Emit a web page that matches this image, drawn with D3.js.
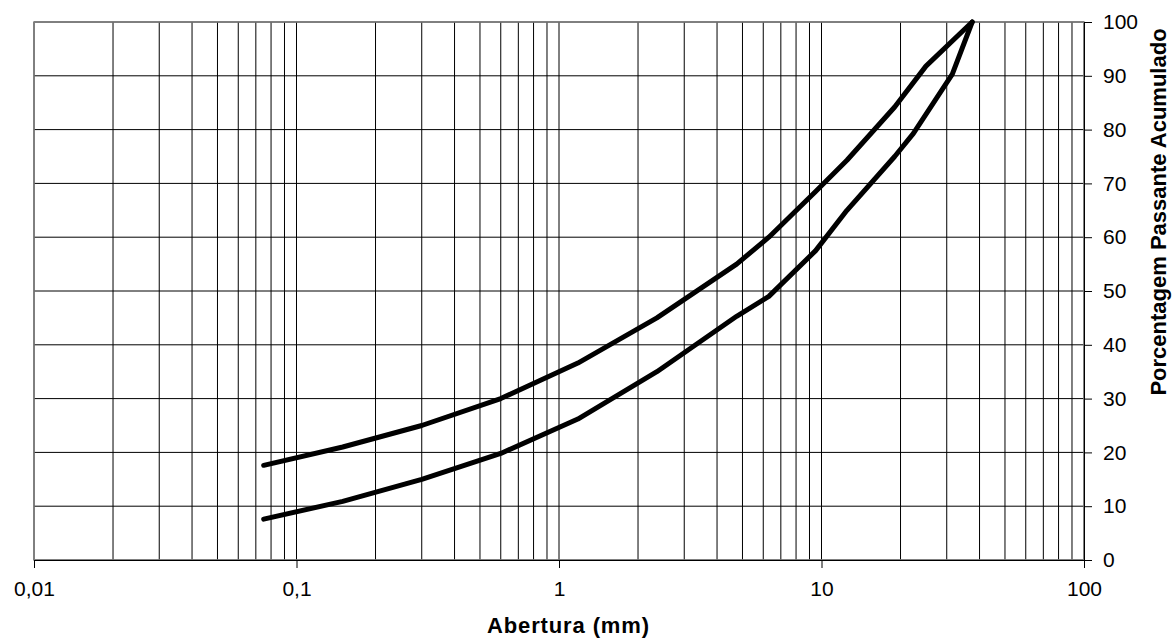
<!DOCTYPE html>
<html>
<head>
<meta charset="utf-8">
<script src="https://cdn.jsdelivr.net/npm/d3@7"></script>
<style>
  body { margin: 0; background: #fff; }
  text { font-family: Arial, "Liberation Sans", sans-serif; }
</style>
</head>
<body>
<script>
// sieve openings (mm) and cumulative passing (%)
var upperSizes = [0.075, 0.15, 0.3, 0.6, 1.18, 2.36, 4.75, 6.3, 9.5, 12.5, 19, 25, 37.5];
var upperPass  = [17.6, 21, 25, 30, 36.6, 45, 55, 60, 68.5, 74.3, 84.2, 91.8, 100];

var lowerSizes = [0.075, 0.15, 0.3, 0.6, 1.18, 2.36, 4.75, 6.3, 9.5, 12.5, 19, 22.4, 31.5, 37.5];
var lowerPass  = [7.6, 10.9, 15, 19.8, 26.2, 35, 45.3, 49, 57.5, 65, 75, 79.3, 90.3, 100];

var xTickValues = [0.01, 0.1, 1, 10, 100];
var xTickLabels = ["0,01", "0,1", "1", "10", "100"];
var yTickValues = [0, 10, 20, 30, 40, 50, 60, 70, 80, 90, 100];

var svgWidth = 1175;
var svgHeight = 639;

var plot = { left: 34, right: 1084, top: 22, bottom: 560 };

var svg = d3.select("body")
  .append("svg")
  .attr("width", svgWidth)
  .attr("height", svgHeight);

var xScale = d3.scaleLog()
  .domain([0.01, 100])
  .range([plot.left, plot.right]);

var yScale = d3.scaleLinear()
  .domain([0, 100])
  .range([plot.bottom, plot.top]);

// vertical grid: every 1..9 of each decade
svg.append("g")
  .selectAll("line")
  .data(xScale.ticks())
  .enter()
  .append("line")
  .attr("x1", d => xScale(d))
  .attr("x2", d => xScale(d))
  .attr("y1", plot.top)
  .attr("y2", plot.bottom)
  .attr("stroke", "#000")
  .attr("stroke-width", 1);

// horizontal grid
svg.append("g")
  .selectAll("line")
  .data(yTickValues)
  .enter()
  .append("line")
  .attr("x1", plot.left)
  .attr("x2", plot.right)
  .attr("y1", d => yScale(d))
  .attr("y2", d => yScale(d))
  .attr("stroke", "#000")
  .attr("stroke-width", 1);

// plot border
svg.append("rect")
  .attr("x", plot.left)
  .attr("y", plot.top)
  .attr("width", plot.right - plot.left)
  .attr("height", plot.bottom - plot.top)
  .attr("fill", "none")
  .attr("stroke", "#808080")
  .attr("stroke-width", 1.5);

// bottom axis
var bottomAxis = d3.axisBottom(xScale)
  .tickValues(xTickValues)
  .tickFormat((d, i) => xTickLabels[i])
  .tickSizeInner(8)
  .tickSizeOuter(0)
  .tickPadding(13);

var xAxis = svg.append("g")
  .attr("transform", `translate(0, ${plot.bottom})`)
  .call(bottomAxis);
xAxis.select(".domain").attr("stroke", "#000");
xAxis.selectAll(".tick line").attr("stroke", "#000");
xAxis.selectAll("text")
  .attr("font-size", 21)
  .attr("font-family", "Arial, 'Liberation Sans', sans-serif")
  .attr("fill", "#000");

// right axis
var rightAxis = d3.axisRight(yScale)
  .tickValues(yTickValues)
  .tickSizeInner(8)
  .tickSizeOuter(0)
  .tickPadding(11);

var yAxis = svg.append("g")
  .attr("transform", `translate(${plot.right}, 0)`)
  .call(rightAxis);
yAxis.select(".domain").attr("stroke", "#000");
yAxis.selectAll(".tick line").attr("stroke", "#000");
yAxis.selectAll("text")
  .attr("font-size", 21)
  .attr("font-family", "Arial, 'Liberation Sans', sans-serif")
  .attr("fill", "#000");

// curves
var line = d3.line()
  .x(d => xScale(d[0]))
  .y(d => yScale(d[1]));

var upperData = upperSizes.map((s, i) => [s, upperPass[i]]);
var lowerData = lowerSizes.map((s, i) => [s, lowerPass[i]]);

[upperData, lowerData].forEach(function(series) {
  svg.append("path")
    .datum(series)
    .attr("d", line)
    .attr("fill", "none")
    .attr("stroke", "#000")
    .attr("stroke-width", 5)
    .attr("stroke-linecap", "round")
    .attr("stroke-linejoin", "round");
});

// axis titles
svg.append("text")
  .attr("x", 568)
  .attr("y", 633)
  .attr("text-anchor", "middle")
  .attr("font-size", 22)
  .attr("font-weight", "bold")
  .attr("textLength", 162)
  .attr("lengthAdjust", "spacing")
  .text("Abertura (mm)");

svg.append("text")
  .attr("transform", "translate(1166, 212) rotate(-90)")
  .attr("text-anchor", "middle")
  .attr("font-size", 22)
  .attr("font-weight", "bold")
  .text("Porcentagem Passante Acumulado");
</script>
</body>
</html>
